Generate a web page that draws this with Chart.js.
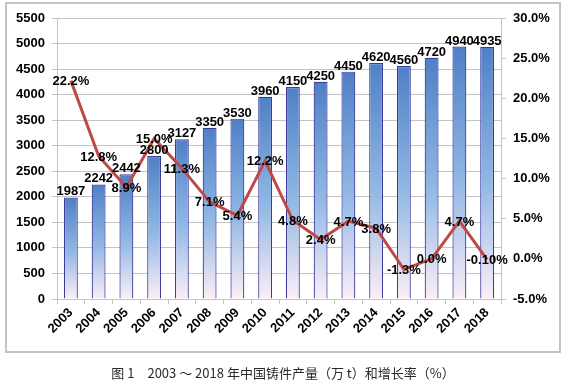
<!DOCTYPE html>
<html>
<head>
<meta charset="utf-8">
<script src="https://cdn.jsdelivr.net/npm/chart.js@4"></script>
<style>
    body { margin: 0; background: #fff; }
    #wrap { position: relative; width: 566px; height: 384px; }
    #frame { position: absolute; left: 5px; top: 2px; width: 556px; height: 351px; border: 2px solid #c4c4c4; box-sizing: border-box; }
    #chart { position: absolute; left: 0; top: 0; }
    #caption { position: absolute; left: 0; top: 363px; width: 566px; text-align: center; font: 13px "Noto Sans CJK SC", sans-serif; color: #2a2a2a; }
</style>
</head>
<body>
<div id="wrap">
    <div id="frame"></div>
    <canvas id="chart" width="566" height="384"></canvas>
    <div id="caption">图 1　2003 ～ 2018 年中国铸件产量（万 t）和增长率（%）</div>
</div>
<script>
const years = ['2003', '2004', '2005', '2006', '2007', '2008', '2009', '2010', '2011', '2012', '2013', '2014', '2015', '2016', '2017', '2018'];
const output = [1987, 2242, 2442, 2800, 3127, 3350, 3530, 3960, 4150, 4250, 4450, 4620, 4560, 4720, 4940, 4935];
const growth = [22.2, 12.8, 8.9, 15.0, 11.3, 7.1, 5.4, 12.2, 4.8, 2.4, 4.7, 3.8, -1.3, 0.0, 4.7, -0.1];
const growthLabels = ['22.2%', '12.8%', '8.9%', '15.0%', '11.3%', '7.1%', '5.4%', '12.2%', '4.8%', '2.4%', '4.7%', '3.8%', '-1.3%', '0.0%', '4.7%', '-0.10%'];

document.addEventListener('DOMContentLoaded', function () {
    const fontFamily = '"Liberation Sans", Arial, sans-serif';
    const labelFont = 'bold 13px ' + fontFamily;
    const tickFont = { family: fontFamily, size: 13, weight: 'bold' };
    const gridColor = '#c4c4c4';

    Chart.defaults.font.family = fontFamily;

    // gradient per bar, from its own top down to the axis
    function barFill(ctx) {
        const chart = ctx.chart;
        const area = chart.chartArea;
        if (!area || ctx.raw === undefined) return '#6a9ad6';
        const top = chart.scales.y.getPixelForValue(ctx.raw);
        const g = chart.ctx.createLinearGradient(0, top, 0, area.bottom);
        g.addColorStop(0, '#4f80c6');
        g.addColorStop(0.55, '#93b9e5');
        g.addColorStop(1, '#fdeef6');
        return g;
    }

    // value labels on bars and line
    const valueLabels = {
        id: 'valueLabels',
        afterDatasetsDraw(chart) {
            const c = chart.ctx;
            c.save();
            c.font = labelFont;
            c.fillStyle = '#000';
            c.textAlign = 'center';

            chart.getDatasetMeta(0).data.forEach(function (bar, i) {
                c.textBaseline = 'alphabetic';
                c.fillText(String(output[i]), bar.x, bar.y - 2);
            });
            chart.getDatasetMeta(1).data.forEach(function (pt, i) {
                c.textBaseline = 'middle';
                c.fillText(growthLabels[i], pt.x, pt.y + 1);
            });
            c.restore();
        }
    };

    new Chart(document.getElementById('chart'), {
        data: {
            labels: years,
            datasets: [{
                type: 'bar',
                data: output,
                yAxisID: 'y',
                backgroundColor: barFill,
                borderColor: '#3b3b9e',
                borderWidth: 1.2,
                barPercentage: 0.5,
                categoryPercentage: 1,
                order: 2
            }, {
                type: 'line',
                data: growth,
                yAxisID: 'y1',
                borderColor: '#bd4a47',
                borderWidth: 3,
                pointRadius: 0,
                tension: 0,
                order: 1
            }]
        },
        options: {
            responsive: false,
            animation: false,
            layout: { padding: { left: 7, right: 7, top: 18, bottom: 35 } },
            plugins: { legend: { display: false }, tooltip: { enabled: false } },
            scales: {
                x: {
                    grid: { drawOnChartArea: false, color: gridColor, tickLength: 5, offset: true },
                    border: { color: gridColor },
                    ticks: { font: tickFont, color: '#000', maxRotation: 45, minRotation: 45, padding: 1 },
                    afterFit: function (s) { s.height = 50; }
                },
                y: {
                    position: 'left',
                    min: 0,
                    max: 5500,
                    ticks: {
                        stepSize: 500,
                        font: tickFont,
                        color: '#000',
                        padding: 7,
                        callback: function (v) { return String(v); }
                    },
                    grid: { color: gridColor, tickLength: 5 },
                    border: { color: gridColor },
                    afterFit: function (s) { s.width = 50; }
                },
                y1: {
                    position: 'right',
                    min: -5,
                    max: 30,
                    ticks: {
                        stepSize: 5,
                        font: tickFont,
                        color: '#000',
                        padding: 7,
                        callback: function (v) { return v.toFixed(1) + '%'; }
                    },
                    grid: { drawOnChartArea: false, color: gridColor, tickLength: 5 },
                    border: { color: gridColor },
                    afterFit: function (s) { s.width = 58; }
                }
            }
        },
        plugins: [valueLabels]
    });
});
</script>
</body>
</html>
